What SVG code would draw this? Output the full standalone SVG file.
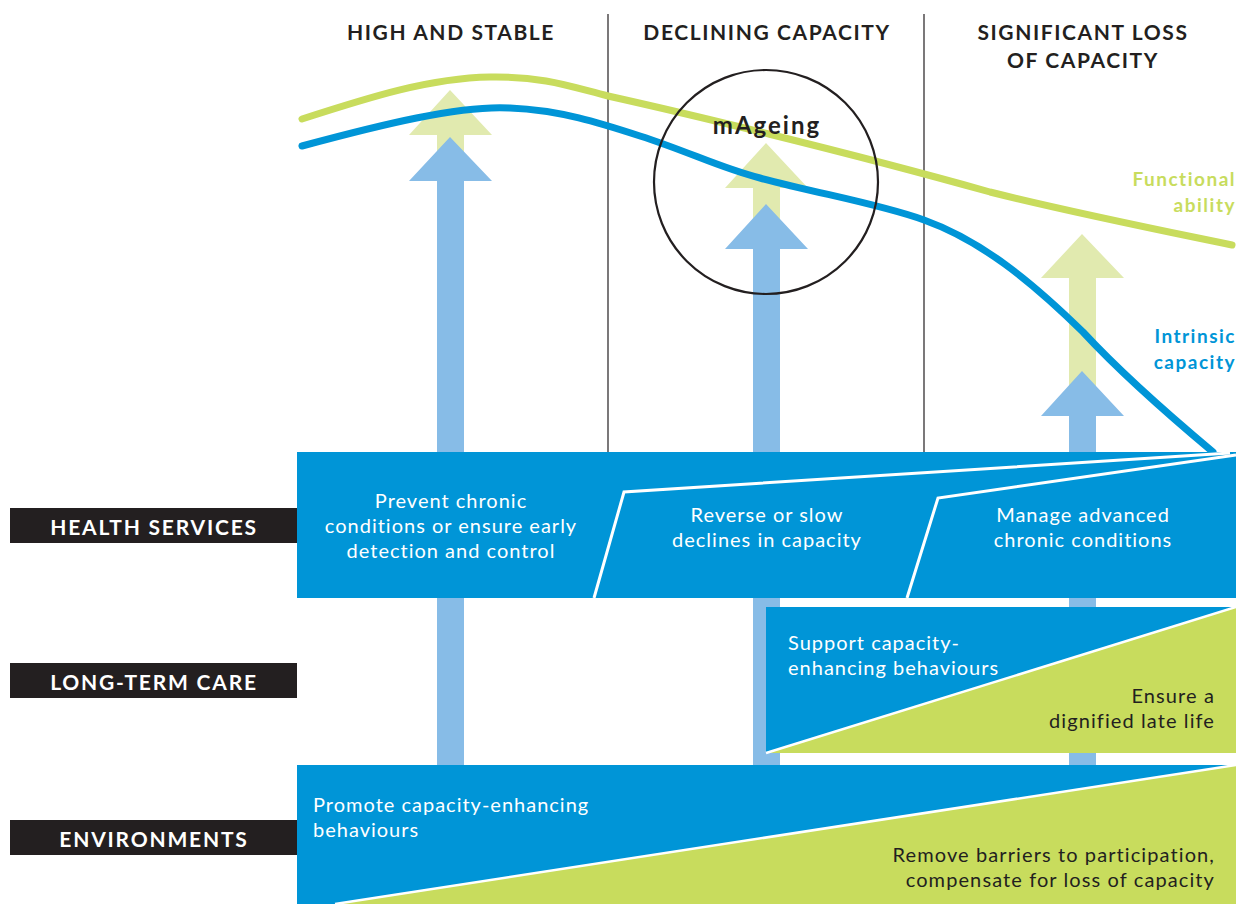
<svg xmlns="http://www.w3.org/2000/svg" width="1236" height="904" viewBox="0 0 1236 904">
<style>
.hdr{font-family:Lato,"Liberation Sans",sans-serif;font-weight:700;font-size:21px;fill:#231f20;text-anchor:middle;letter-spacing:1.6px}
.lbl{font-family:Lato,"Liberation Sans",sans-serif;font-weight:700;font-size:21px;fill:#ffffff;text-anchor:middle;letter-spacing:1.8px}
.body{font-family:Lato,"Liberation Sans",sans-serif;font-size:20px;fill:#ffffff;letter-spacing:1px}
.dark{font-family:Lato,"Liberation Sans",sans-serif;font-size:20px;fill:#231f20;letter-spacing:1.1px}
.curve{fill:none;stroke-width:7;stroke-linecap:round;stroke-linejoin:round}
.garr{fill:#e1eaaf}
.barr{fill:#87bce7}
.band{fill:#0095d7}
.green{fill:#c8dc5d}
.wl{fill:none;stroke:#ffffff;stroke-width:3}
.blk{fill:#231f20}
.clbl{font-family:Lato,"Liberation Sans",sans-serif;font-weight:700;font-size:19px;text-anchor:end;letter-spacing:1.5px}
</style>
<rect width="1236" height="904" fill="#ffffff"/>
<g id="dividers" stroke="#231f20" stroke-width="1.2">
<line x1="608" y1="14" x2="608" y2="452"/>
<line x1="924" y1="14" x2="924" y2="452"/>
</g>
<g id="headers">
<text class="hdr" x="451" y="40">HIGH AND STABLE</text>
<text class="hdr" x="767" y="40">DECLINING CAPACITY</text>
<text class="hdr" x="1083" y="40">SIGNIFICANT LOSS</text>
<text class="hdr" x="1083" y="68">OF CAPACITY</text>
</g>
<g id="arrows">
<polygon class="garr" points="450,90 492,135 464,135 464,181 437,181 437,135 409,135"/>
<polygon class="barr" points="450,137 492,181 464,181 464,765 437,765 437,181 409,181"/>
<polygon class="garr" points="766,143 808,188 780,188 780,249 753,249 753,188 725,188"/>
<polygon class="barr" points="766,204 808,249 780,249 780,765 753,765 753,249 725,249"/>
<polygon class="garr" points="1082,234 1124,278 1096,278 1096,416 1069,416 1069,278 1041,278"/>
<polygon class="barr" points="1082,371 1124,416 1096,416 1096,765 1069,765 1069,416 1041,416"/>
</g>
<g id="curves">
<path class="curve" stroke="#c8dc5d" d="M302,119 C370,97 430,78 490,77 C545,76 575,88 608,96 C680,112 840,150 990,192 C1070,212 1150,228 1232,245"/>
<path class="curve" stroke="#0095d7" d="M302,146 C380,125 460,105 510,108 C560,110 600,123 640,136 C690,152 720,168 760,178 C820,194 880,204 924,220 C980,240 1030,280 1083,332 C1120,372 1170,416 1213,452"/>
</g>
<g id="curve-labels">
<text class="clbl" x="1236" y="186" fill="#c8dc5d">Functional</text>
<text class="clbl" x="1236" y="212" fill="#c8dc5d">ability</text>
<text class="clbl" x="1236" y="343" fill="#0095d7">Intrinsic</text>
<text class="clbl" x="1236" y="369" fill="#0095d7">capacity</text>
</g>
<g id="mageing">
<circle cx="766" cy="182" r="112" fill="none" stroke="#231f20" stroke-width="2.2"/>
<text x="767" y="134" font-family="Lato,'Liberation Sans',sans-serif" font-weight="700" font-size="24" fill="#231f20" text-anchor="middle" letter-spacing="2">mAgeing</text>
</g>
<g id="health-services">
<rect class="band" x="297" y="452" width="939" height="146"/>
<polyline class="wl" points="594,598 624,492 1230,453"/>
<polyline class="wl" points="907,598 938,498 1236,455"/>
<text class="body" text-anchor="middle"><tspan x="451" y="508">Prevent chronic</tspan><tspan x="451" y="533">conditions or ensure early</tspan><tspan x="451" y="558">detection and control</tspan></text>
<text class="body" text-anchor="middle"><tspan x="767" y="522">Reverse or slow</tspan><tspan x="767" y="547">declines in capacity</tspan></text>
<text class="body" text-anchor="middle"><tspan x="1083" y="522">Manage advanced</tspan><tspan x="1083" y="547">chronic conditions</tspan></text>
</g>
<g id="long-term-care">
<polygon class="band" points="766,607 1236,607 766,753"/>
<polygon class="green" points="766,753 1236,607 1236,753"/>
<line x1="766" y1="753" x2="1236" y2="607" stroke="#ffffff" stroke-width="2.5"/>
<text class="body"><tspan x="788" y="650">Support capacity-</tspan><tspan x="788" y="675">enhancing behaviours</tspan></text>
<text class="dark" text-anchor="end"><tspan x="1215" y="703">Ensure a</tspan><tspan x="1215" y="728">dignified late life</tspan></text>
</g>
<g id="environments">
<polygon class="band" points="297,765 1236,765 335,904 297,904"/>
<polygon class="green" points="335,904 1236,765 1236,904"/>
<line x1="335" y1="904" x2="1236" y2="765" stroke="#ffffff" stroke-width="2.5"/>
<text class="body"><tspan x="313" y="812">Promote capacity-enhancing</tspan><tspan x="313" y="837">behaviours</tspan></text>
<text class="dark" text-anchor="end"><tspan x="1215" y="862">Remove barriers to participation,</tspan><tspan x="1215" y="887">compensate for loss of capacity</tspan></text>
</g>
<g id="label-health">
<rect class="blk" x="10" y="508" width="287" height="35"/>
<text class="lbl" x="154" y="535">HEALTH SERVICES</text>
</g>
<g id="label-ltc">
<rect class="blk" x="10" y="663" width="287" height="35"/>
<text class="lbl" x="154" y="690">LONG-TERM CARE</text>
</g>
<g id="label-env">
<rect class="blk" x="10" y="820" width="287" height="35"/>
<text class="lbl" x="154" y="847">ENVIRONMENTS</text>
</g>
</svg>
